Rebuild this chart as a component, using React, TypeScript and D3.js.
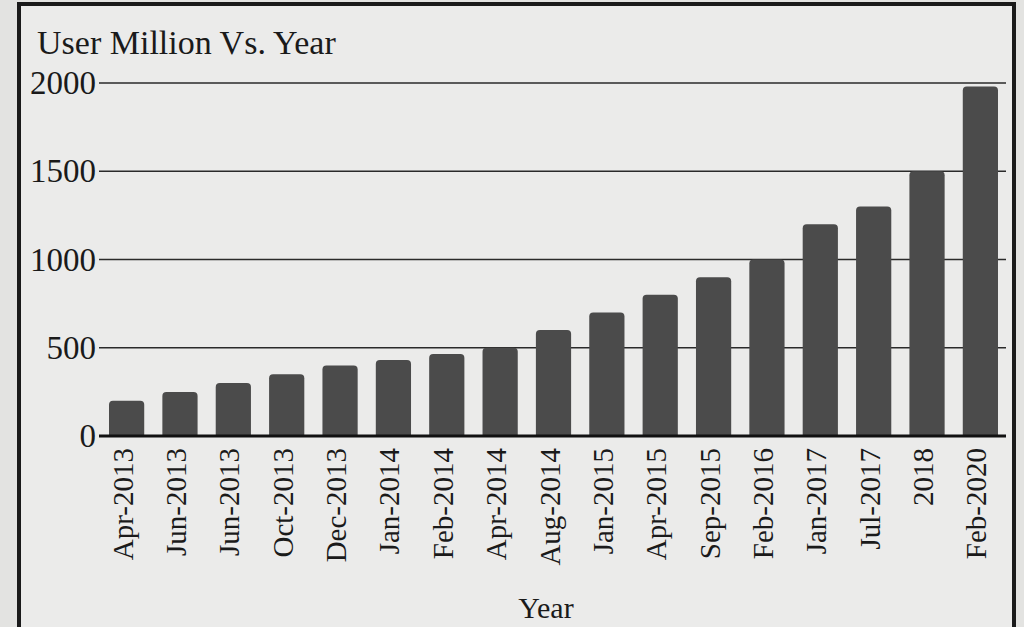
import React from "react";
import * as d3 from "d3";

const categories = [
  "Apr-2013", "Jun-2013", "Jun-2013", "Oct-2013", "Dec-2013", "Jan-2014",
  "Feb-2014", "Apr-2014", "Aug-2014", "Jan-2015", "Apr-2015", "Sep-2015",
  "Feb-2016", "Jan-2017", "Jul-2017", "2018", "Feb-2020",
];
const users = [200, 250, 300, 350, 400, 430, 465, 500, 600, 700, 800, 900, 1000, 1200, 1300, 1500, 1980];
const yTicks = [0, 500, 1000, 1500, 2000];

const W = 1024, H = 627;
const left = 95, right = 1006, top = 83, bottom = 436;
const font = "'Liberation Serif', 'DejaVu Serif', serif";

export default function App() {
  const x = d3.scaleBand().domain(categories.map((c, i) => i + "")).range([left + 6, right]).paddingInner(0.34).paddingOuter(0.15);
  const y = d3.scaleLinear().domain([0, 2000]).range([bottom, top]);
  return (
    <svg width={W} height={H} style={{ position: "absolute", left: 0, top: 0, background: "#e3e3e1" }}>
      <rect x={0} y={0} width={W} height={H} fill="#e3e3e1" />
      <rect x={19} y={4} width={995} height={640} fill="#ebebea" stroke="#1a1a1a" strokeWidth={4} />
      <text x={37} y={54} fontFamily={font} fontSize={34} fill="#1a1a1a">User Million Vs. Year</text>
      {yTicks.map((t) => (
        <g key={t}>
          {t > 0 && <line x1={left + 4} x2={right} y1={y(t)} y2={y(t)} stroke="#2a2a2a" strokeWidth={1.4} />}
          <text x={left + 1} y={y(t) + 11} textAnchor="end" fontFamily={font} fontSize={33} fill="#1a1a1a">{t}</text>
        </g>
      ))}
      {users.map((v, i) => {
        const bx = x(i + "")!;
        const bw = x.bandwidth();
        const yt = y(v);
        const r = 4;
        const d = `M${bx},${bottom} L${bx},${yt + r} Q${bx},${yt} ${bx + r},${yt} L${bx + bw - r},${yt} Q${bx + bw},${yt} ${bx + bw},${yt + r} L${bx + bw},${bottom} Z`;
        return <path key={i} d={d} fill="#4b4b4b" />;
      })}
      <line x1={left + 4} x2={right} y1={bottom} y2={bottom} stroke="#111" strokeWidth={2.8} />
      {categories.map((c, i) => {
        const cx = x(i + "")! + x.bandwidth() / 2;
        return (
          <text key={i} transform={`translate(${cx + 6},${bottom + 12}) rotate(-90)`} textAnchor="end"
            fontFamily={font} fontSize={29} fill="#1a1a1a">{c}</text>
        );
      })}
      <text x={546} y={618} textAnchor="middle" fontFamily={font} fontSize={30} fill="#1a1a1a">Year</text>
    </svg>
  );
}
